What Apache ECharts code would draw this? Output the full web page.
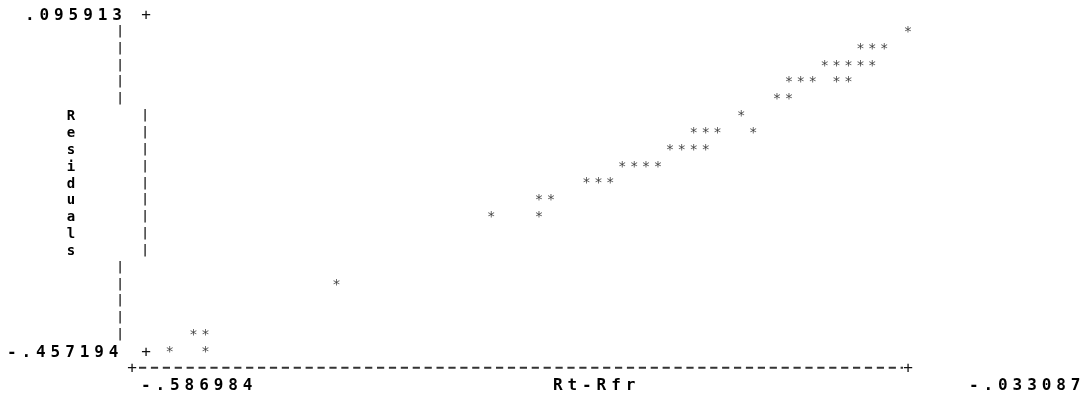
<!DOCTYPE html>
<html>
<head>
<meta charset="utf-8">
<script src="https://cdn.jsdelivr.net/npm/echarts@6/dist/echarts.min.js"></script>
<style>
html,body{margin:0;padding:0;background:#fff;}
#chart{width:1089px;height:400px;}
#chart svg{will-change:transform;transform:translateZ(0);}
#chart text[style*="bold"]{letter-spacing:4.9px;}
</style>
</head>
<body>
<div id="chart"></div>
<script>
// ---- data ----
const xTickLabels = ['-.586984', '-.033087'];
const yTickLabels = ['.095913', '-.457194'];
const xTitle = 'Rt-Rfr';
const yTitle = 'Residuals';
const xMin = -0.586984, xMax = -0.033087;
const yMin = -0.457194, yMax = 0.095913;

// Rt-Rfr values of the plotted points
const rtRfr = [
  -0.0331,
  -0.0677, -0.0591, -0.0504,
  -0.0937, -0.0850, -0.0764, -0.0677, -0.0591,
  -0.1196, -0.1110, -0.1023, -0.0850, -0.0764,
  -0.1283, -0.1196,
  -0.1543,
  -0.1889, -0.1802, -0.1716, -0.1456,
  -0.2062, -0.1975, -0.1889, -0.1802,
  -0.2408, -0.2321, -0.2235, -0.2148,
  -0.2668, -0.2581, -0.2495,
  -0.3014, -0.2927,
  -0.3360, -0.3014,
  -0.4485,
  -0.5524, -0.5437,
  -0.5697, -0.5437
];
// Residuals of the plotted points
const residuals = [
  0.0683,
  0.0406, 0.0406, 0.0406,
  0.0129, 0.0129, 0.0129, 0.0129, 0.0129,
  -0.0147, -0.0147, -0.0147, -0.0147, -0.0147,
  -0.0424, -0.0424,
  -0.0700,
  -0.0977, -0.0977, -0.0977, -0.0977,
  -0.1253, -0.1253, -0.1253, -0.1253,
  -0.1530, -0.1530, -0.1530, -0.1530,
  -0.1806, -0.1806, -0.1806,
  -0.2083, -0.2083,
  -0.2360, -0.2360,
  -0.3466,
  -0.4295, -0.4295,
  -0.4572, -0.4572
];

// ---- chart ----
const points = rtRfr.map((x, i) => [x, residuals[i]]);
const ROW = 16.85;          // text row pitch of the character plot
const rowY = k => 14 + ROW * k;
const MONO = '"DejaVu Sans Mono", monospace';
const boldText = (txt, x, y, align) => ({
  type: 'text', x: x, y: y, silent: true,
  style: { text: txt, font: 'bold 16px ' + MONO, fill: '#000',
           align: align || 'left', verticalAlign: 'middle' }
});
const plainText = (txt, x, y, font, color) => ({
  type: 'text', x: x, y: y, silent: true,
  style: { text: txt, font: font + ' ' + MONO, fill: color || '#111',
           align: 'center', verticalAlign: 'middle', lineHeight: ROW }
});
const bars = n => new Array(n).fill('|').join('\n');

const chart = echarts.init(document.getElementById('chart'), null, { renderer: 'svg' });
chart.setOption({
  animation: false,
  backgroundColor: '#fff',
  grid: { left: 146, right: 181, top: 14, bottom: 49, containLabel: false, show: false },
  xAxis: { type: 'value', min: xMin, max: xMax, show: false },
  yAxis: { type: 'value', min: yMin, max: yMax, show: false },
  series: [{
    type: 'scatter',
    data: points,
    symbolSize: 1,
    itemStyle: { color: 'rgba(0,0,0,0)' },
    label: { show: true, position: 'inside', formatter: '*',
             fontFamily: 'DejaVu Sans Mono', fontSize: 14, color: '#111' },
    emphasis: { disabled: true },
    silent: true
  }],
  graphic: [
    boldText(yTickLabels[0], 25, rowY(0)),
    plainText('+', 146, rowY(0), '16px'),
    boldText(yTickLabels[1], 7, rowY(20)),
    plainText('+', 146, rowY(20), '16px'),
    plainText(bars(5), 120, rowY(3), '600 12px', '#222'),
    plainText(bars(9), 145, rowY(10), '600 12px', '#222'),
    plainText(bars(5), 120, rowY(17), '600 12px', '#222'),
    { type: 'text', x: 73.5, y: rowY(10), silent: true,
      style: { text: yTitle.split('').join('\n'), font: 'bold 14px ' + MONO, fill: '#000',
               align: 'center', verticalAlign: 'middle', lineHeight: ROW } },
    plainText('+', 132, rowY(21), '16px'),
    plainText('+', 908, rowY(21), '16px'),
    { type: 'line', silent: true,
      shape: { x1: 139, y1: rowY(21), x2: 903, y2: rowY(21) },
      style: { stroke: '#333', lineWidth: 2, lineDash: [7.2, 4.7] } },
    boldText(xTickLabels[0], 141, rowY(22)),
    boldText(xTitle, 553, rowY(22)),
    boldText(xTickLabels[1], 969, rowY(22))
  ]
});
</script>
</body>
</html>
